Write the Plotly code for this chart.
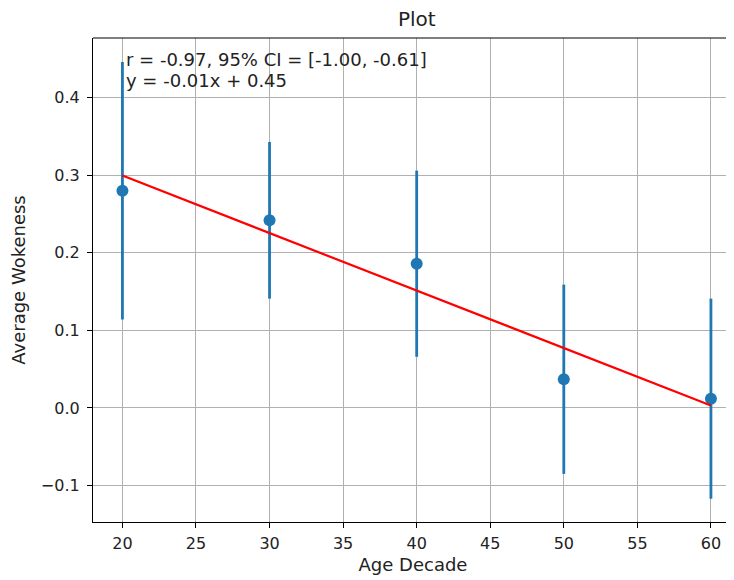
import numpy as np
import plotly.graph_objects as go

age_decade = [20, 30, 40, 50, 60]
avg_wokeness = [0.280, 0.242, 0.186, 0.037, 0.012]
ci_halfwidth = [0.166, 0.101, 0.120, 0.122, 0.129]

x_ticks = [20, 25, 30, 35, 40, 45, 50, 55, 60]
y_ticks = [-0.1, 0.0, 0.1, 0.2, 0.3, 0.4]

stat_line = "r = -0.97, 95% CI = [-1.00, -0.61]"
eq_line = "y = -0.01x + 0.45"

slope, intercept = np.polyfit(age_decade, avg_wokeness, 1)
fit_x = [age_decade[0], age_decade[-1]]
fit_y = [slope * v + intercept for v in fit_x]

FONT = "DejaVu Sans"
BLUE = "#1f77b4"
TXT = "#222222"

# page body has an 8px margin; the figure is sized to fit the window
W, H = 726, 572
ML, MR, MT, MB = 85, 1, 30, 58
plot_w = W - ML - MR
plot_h = H - MT - MB

fig = go.Figure()
fig.add_trace(go.Scatter(
    x=age_decade, y=avg_wokeness, mode="markers",
    marker=dict(color=BLUE, size=12),
    error_y=dict(type="data", array=ci_halfwidth, visible=True,
                 color=BLUE, thickness=2.8, width=0),
    showlegend=False,
))
fig.add_trace(go.Scatter(
    x=fit_x, y=fit_y, mode="lines",
    line=dict(color="red", width=2.2), showlegend=False,
))

fig.add_annotation(x=20, y=1, xref="x", yref="paper", text=stat_line,
                   xanchor="left", yanchor="middle", showarrow=False,
                   xshift=2, yshift=-21.5, font=dict(family=FONT, size=18, color=TXT))
fig.add_annotation(x=20, y=1, xref="x", yref="paper", text=eq_line,
                   xanchor="left", yanchor="middle", showarrow=False,
                   xshift=2, yshift=-42.5, font=dict(family=FONT, size=18, color=TXT))

# title centred over the (full) axes
fig.add_annotation(x=(409 - ML) / plot_w, y=1 + 19 / plot_h, xref="paper", yref="paper",
                   text="Plot", showarrow=False, xanchor="center", yanchor="middle",
                   font=dict(family=FONT, size=20, color=TXT))

axis_common = dict(
    showgrid=True, gridcolor="#b0b0b0", gridwidth=1.1,
    showline=True, linecolor="black", linewidth=1.2,
    ticks="outside", ticklen=5, tickcolor="black", tickwidth=1.2,
    zeroline=False, tickfont=dict(family=FONT, size=16, color=TXT),
    automargin=False,
)

fig.update_layout(
    width=W, height=H,
    paper_bgcolor="white", plot_bgcolor="white",
    margin=dict(l=ML, r=MR, t=MT, b=MB),
    font=dict(family=FONT, color=TXT),
    xaxis=dict(range=[18, 61.5], tickvals=x_ticks,
               title=dict(text="Age Decade", standoff=6,
                          font=dict(family=FONT, size=18, color=TXT)),
               ticklabelstandoff=2,
               mirror=False, **axis_common),
    yaxis=dict(range=[-0.147, 0.477], tickvals=y_ticks, tickformat=".1f",
               title=dict(text="Average Wokeness", standoff=20,
                          font=dict(family=FONT, size=18, color=TXT)),
               ticklabelstandoff=4,
               mirror=False, **axis_common),
    shapes=[dict(type="line", xref="paper", yref="paper", x0=0, x1=1, y0=1, y1=1,
                 line=dict(color="black", width=1.2))],
)

fig.write_html("out.html")
